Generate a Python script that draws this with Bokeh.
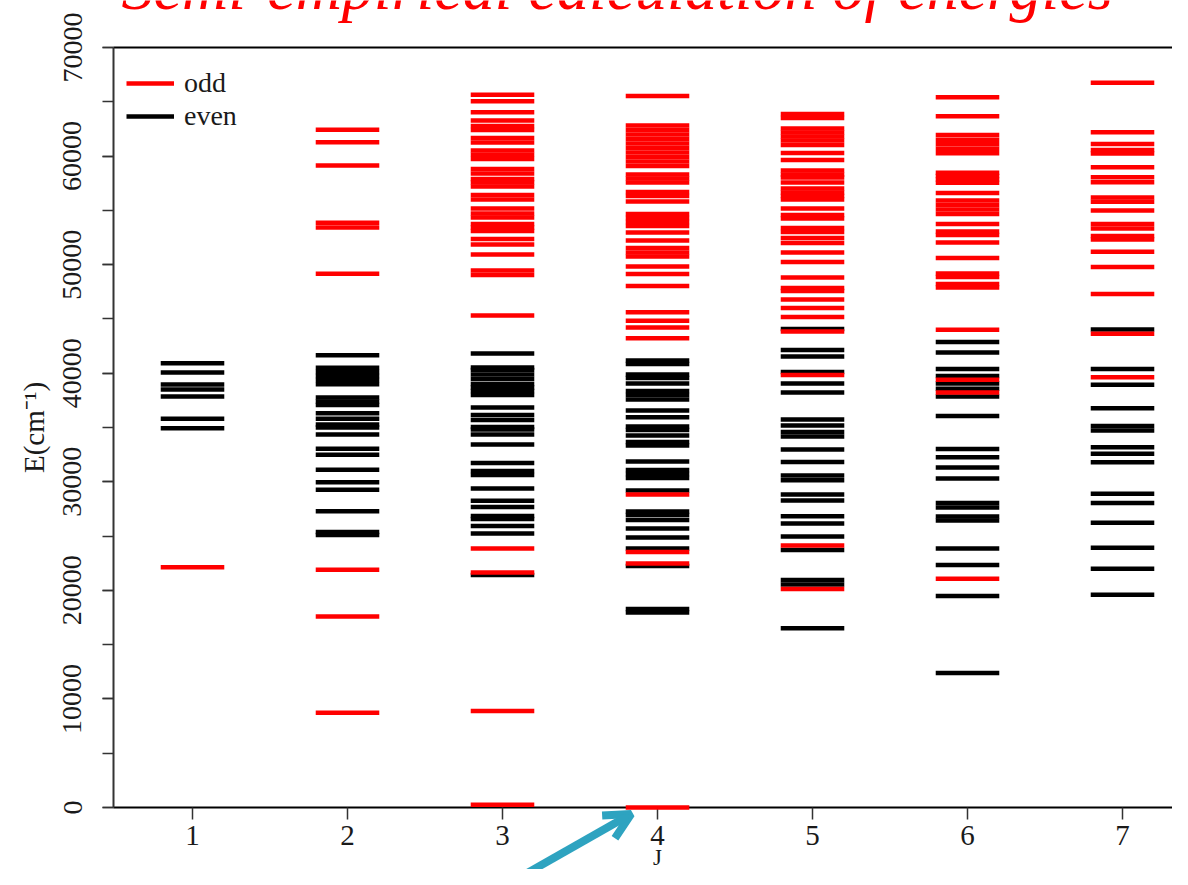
from bokeh.plotting import figure
from bokeh.models import (ColumnDataSource, FixedTicker, NumeralTickFormatter, Legend, LegendItem,
                          Label, Arrow, OpenHead, Range1d, LinearAxis)
from bokeh.embed import file_html
from bokeh.resources import INLINE

# ---------------- data (energies in cm^-1) ----------------
J_values = [1, 2, 3, 4, 5, 6, 7]

even_J1 = [40920, 40063, 38958, 38497, 37853, 35799, 34935]
odd_J1 = [22130]

even_J2 = [41659, 40502, 40101, 39742, 39383, 38982, 37761, 37393, 37070, 36316, 35799,
           35274, 34998, 34353, 33036, 32484, 31102, 29962, 29262, 27290, 25374, 25098]
odd_J2 = [62418, 61275, 59128, 53870, 53420, 49153, 21892, 17591, 8722]

even_J3 = [41813, 40524, 40295, 39879, 39465, 39005, 38682, 38360, 37992, 36842, 36150,
           35690, 35044, 34813, 34353, 33432, 31729, 30992, 30624, 29380, 28247, 27677,
           26847, 26571, 25926, 25235, 21414]
odd_J3 = [65640, 65050, 64037, 63273, 62768, 62400, 61662, 61247, 60511, 60124, 59738,
          58807, 58392, 57885, 57563, 57194, 56412, 55997, 55166, 54707, 54339, 53740,
          53418, 53095, 52360, 51853, 50931, 49458, 49043, 45313, 23854, 21644, 8888, 250]

even_J4 = [41169, 40847, 39879, 39557, 39051, 38360, 37992, 37577, 36564, 35947, 35090,
           34768, 34261, 33663, 33340, 31868, 31085, 30716, 30347, 29196, 27262, 26939,
           26479, 25695, 24868, 23854, 22243, 18282, 17960]
odd_J4 = [65530, 62812, 62398, 61983, 61569, 61154, 60740, 60326, 59911, 59497, 59082,
          58299, 57931, 57563, 56688, 56320, 55813, 54661, 54293, 53925, 53556, 52958,
          52222, 51530, 51116, 50747, 49826, 49136, 48031, 45617, 44825, 44208, 43223,
          28828, 23532, 22473, 0]

even_J5 = [44070, 42137, 41537, 40110, 39051, 38224, 35735, 35182, 34584, 34169, 32973,
           31822, 30578, 30146, 28828, 28276, 26820, 26156, 24960, 23716, 20953, 20539, 16515]
odd_J5 = [63873, 63505, 62536, 62168, 61799, 61431, 61016, 60281, 59636, 58669, 58300,
          58024, 57563, 57010, 56642, 56320, 55997, 55166, 54569, 54247, 53372, 53003,
          52452, 51992, 51116, 50241, 48814, 47846, 47570, 46789, 46006, 45175, 43840,
          39834, 24131, 20124]

even_J6 = [42873, 41905, 40387, 39742, 39051, 38560, 37853, 36058, 33019, 32264, 31314,
           30302, 28045, 27631, 26801, 26433, 23854, 22335, 19480, 12389]
odd_J6 = [65422, 63661, 61933, 61514, 61100, 60676, 60257, 58464, 58160, 57847, 57552,
          56596, 55910, 55496, 55081, 54667, 53742, 53050, 52728, 52038, 50609, 49182,
          48860, 48215, 47893, 43996, 39390, 38224, 21064]

even_J7 = [44024, 40387, 38941, 36767, 35136, 34722, 33185, 32576, 31803, 28893, 28045,
           26217, 23928, 21994, 19600]
odd_J7 = [66745, 62190, 61114, 60557, 60235, 58976, 58055, 57581, 56181, 55786, 54985,
          53740, 53326, 52636, 52314, 51180, 49781, 47294, 43629, 39630]

even_levels = [even_J1, even_J2, even_J3, even_J4, even_J5, even_J6, even_J7]
odd_levels = [odd_J1, odd_J2, odd_J3, odd_J4, odd_J5, odd_J6, odd_J7]

y_ticks = [0, 10000, 20000, 30000, 40000, 50000, 60000, 70000]
y_minor_ticks = [0, 5000, 10000, 15000, 20000, 25000, 30000, 35000, 40000,
                 45000, 50000, 55000, 60000, 65000, 70000]
E_MIN, E_MAX = 0, 70000
J_MIN = 0.4903

title_text = "Semi-empirical calculation of energies"
HALF = 0.205
SERIF = "Liberation Serif"
TEAL = "#2EA3C0"

# arrow (annotation) endpoints
arrow_tail = (2.93, -7900)
arrow_tip = (3.83, -600)

W, H = 1172, 869
# canvas geometry: axes box from x=113 (J_MIN) ; y=807 (E=0) to y=47 (E=70000)
PX_PER_J = 155.0
PX_PER_E = 760.0 / 70000.0
x_start = J_MIN - 113 / PX_PER_J
x_end = x_start + W / PX_PER_J
y_start = -(H - 807) / PX_PER_E
y_end = y_start + H / PX_PER_E


def build(levels_by_j):
    x0, x1, y = [], [], []
    for j, levels in zip(J_values, levels_by_j):
        for e in levels:
            x0.append(j - HALF)
            x1.append(j + HALF)
            y.append(e)
    return ColumnDataSource(dict(x0=x0, x1=x1, y=y))


src_even = build(even_levels)
src_odd = build(odd_levels)

p = figure(width=W, height=H, output_backend="svg", toolbar_location=None,
           x_range=Range1d(x_start, x_end), y_range=Range1d(y_start, y_end),
           x_axis_location=None, y_axis_location=None,
           min_border_left=0, min_border_right=0, min_border_top=0, min_border_bottom=0)
p.outline_line_color = None
p.background_fill_color = "white"
for g in p.grid:
    g.visible = False

r_even = p.segment("x0", "y", "x1", "y", source=src_even, line_color="black",
                   line_width=4.5, line_cap="butt", level="overlay")
r_odd = p.segment("x0", "y", "x1", "y", source=src_odd, line_color="#FF0000",
                  line_width=4.5, line_cap="butt", level="overlay")

# y axis (fixed inside the full-canvas frame)
ya = LinearAxis(fixed_location=J_MIN, bounds=(E_MIN, E_MAX))
ya.ticker = FixedTicker(ticks=y_ticks, minor_ticks=y_minor_ticks)
ya.formatter = NumeralTickFormatter(format="0")
ya.major_label_orientation = "vertical"
ya.major_label_text_font = SERIF
ya.major_label_text_font_size = "28px"
ya.major_label_text_color = "#1a1a1a"
ya.major_label_standoff = 21
ya.major_tick_in = 0
ya.major_tick_out = 11
ya.minor_tick_in = 0
ya.minor_tick_out = 11
ya.major_tick_line_color = "#333333"
ya.minor_tick_line_color = "#333333"
ya.major_tick_line_width = 1.5
ya.minor_tick_line_width = 1.5
ya.axis_line_color = "#333333"
ya.axis_line_width = 2
ya.axis_label = "E(cm\u207b\u00b9)"
ya.axis_label_text_font = SERIF
ya.axis_label_text_font_style = "normal"
ya.axis_label_text_font_size = "29px"
ya.axis_label_text_color = "#1a1a1a"
ya.axis_label_standoff = 11
p.add_layout(ya, "left")

# x axis
xa = LinearAxis(fixed_location=E_MIN, bounds=(J_MIN, x_end))
xa.ticker = FixedTicker(ticks=J_values, minor_ticks=[])
xa.major_label_text_font = SERIF
xa.major_label_text_font_size = "29px"
xa.major_label_text_color = "#1a1a1a"
xa.major_label_standoff = 6
xa.major_tick_in = 0
xa.major_tick_out = 12
xa.major_tick_line_color = "#333333"
xa.major_tick_line_width = 1.5
xa.axis_line_color = "black"
xa.axis_line_width = 2
p.add_layout(xa, "below")

# top border line of the box
ta = LinearAxis(fixed_location=E_MAX, bounds=(J_MIN, x_end))
ta.ticker = FixedTicker(ticks=[], minor_ticks=[])
ta.major_tick_line_color = None
ta.minor_tick_line_color = None
ta.major_label_text_alpha = 0
ta.axis_line_color = "black"
ta.axis_line_width = 2
p.add_layout(ta, "above")

# x axis title
p.add_layout(Label(x=4, y=12, y_units="screen", text="J", text_align="center",
                   text_baseline="alphabetic", text_font=SERIF, text_font_size="23px",
                   text_color="#1a1a1a"))

legend = Legend(items=[LegendItem(label="odd", renderers=[r_odd]),
                       LegendItem(label="even", renderers=[r_even])],
                location=(126, H - 66.5 - 66), border_line_color=None,
                background_fill_alpha=0, padding=0, spacing=0, margin=0,
                glyph_width=48, glyph_height=20, label_height=33, label_standoff=10,
                label_text_font=SERIF, label_text_font_size="28px",
                label_text_color="#1a1a1a")
p.add_layout(legend)

p.add_layout(Label(x=121, y=H + 13, x_units="screen", y_units="screen",
                   text=title_text, text_color="#FF0000", text_font=SERIF,
                   text_font_style="italic", text_font_size="64px",
                   text_baseline="alphabetic"))

p.add_layout(Arrow(end=OpenHead(size=26, line_width=8, line_color=TEAL),
                   x_start=arrow_tail[0], y_start=arrow_tail[1],
                   x_end=arrow_tip[0], y_end=arrow_tip[1],
                   line_color=TEAL, line_width=8))

open("out.html", "w").write(file_html(p, INLINE))
